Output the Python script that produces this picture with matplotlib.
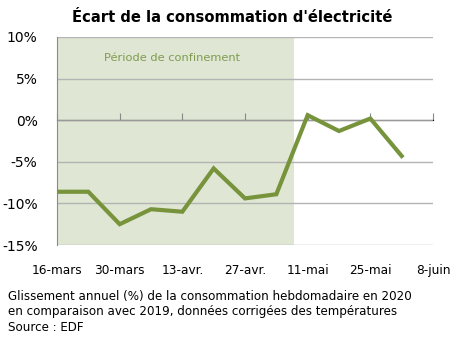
import pandas as pd
import matplotlib.pyplot as plt
from matplotlib.ticker import FuncFormatter

# données hebdomadaires (glissement annuel en %)
semaines = ["2020-03-16", "2020-03-23", "2020-03-30", "2020-04-06", "2020-04-13", "2020-04-20",
            "2020-04-27", "2020-05-04", "2020-05-11", "2020-05-18", "2020-05-25", "2020-06-01"]
ecart = [-8.6, -8.6, -12.5, -10.7, -11.0, -5.8, -9.4, -8.9, 0.6, -1.3, 0.2, -4.3]

tick_dates = ["2020-03-16", "2020-03-30", "2020-04-13", "2020-04-27", "2020-05-11", "2020-05-25", "2020-06-08"]
tick_labels = ["16-mars", "30-mars", "13-avr.", "27-avr.", "11-mai", "25-mai", "8-juin"]
confinement = ("2020-03-16", "2020-05-08")

vert = "#77933c"
fond_vert = "#dfe6d3"
gris = "#b4b4b4"

x = pd.to_datetime(semaines)
xt = pd.to_datetime(tick_dates)

fig = plt.figure(figsize=(4.73, 3.49), dpi=100)
ax = fig.add_axes([57 / 473, 1 - 245 / 349, 376 / 473, 208 / 349])

ax.axvspan(pd.Timestamp(confinement[0]), pd.Timestamp(confinement[1]), color=fond_vert, lw=0, zorder=0)
for v in [10, 5, -5, -10, -15]:
    ax.axhline(v, color=gris, lw=1, zorder=1)
ax.axhline(0, color="#9a9a9a", lw=1, zorder=1)

ax.plot(x, ecart, color=vert, lw=3, solid_joinstyle="miter", zorder=3)

ax.set_xlim(xt[0], xt[-1])
ax.set_ylim(-15, 10)
ax.set_yticks([10, 5, 0, -5, -10, -15])
ax.yaxis.set_major_formatter(FuncFormatter(lambda v, p: f"{v:.0f}%"))
ax.set_xticks(xt)
ax.set_xticklabels(tick_labels)
ax.tick_params(axis="x", length=0, pad=14, labelsize=8.7)
ax.tick_params(axis="y", length=0, pad=14, labelsize=10)

for s in ["top", "right", "bottom"]:
    ax.spines[s].set_visible(False)
ax.spines["left"].set_color("#8a8a8a")

# petites graduations sur la ligne 0 %
sec = ax.secondary_xaxis(0.6)
sec.set_xticks(xt)
sec.set_xticklabels([""] * len(xt))
sec.tick_params(direction="out", length=5, color="#8a8a8a")
sec.spines["bottom"].set_visible(False)

ax.text(0.307, 0.90, "Période de confinement", transform=ax.transAxes, ha="center", va="center",
        color="#7f9c4f", fontsize=8.2)

fig.text(232 / 473, 1 - 17 / 349, "Écart de la consommation d'électricité", ha="center", va="center",
         fontsize=10.6, fontweight="bold")
fig.text(8 / 473, 1 - 290 / 349,
         "Glissement annuel (%) de la consommation hebdomadaire en 2020\n"
         "en comparaison avec 2019, données corrigées des températures\n"
         "Source : EDF",
         ha="left", va="top", fontsize=8.6, linespacing=1.25)

fig.savefig("out.png", dpi=100)
